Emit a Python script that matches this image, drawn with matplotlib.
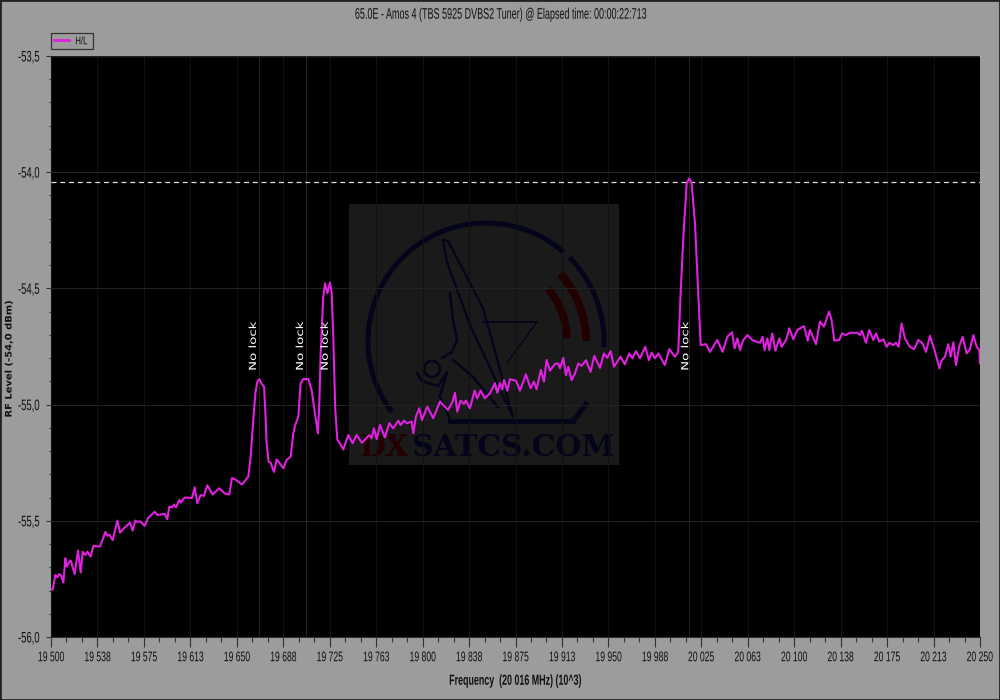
"""DVB-S2 tuner spectrum scan, 65.0E Amos 4."""

import matplotlib
matplotlib.use("Agg")
import matplotlib.patheffects as pe
import matplotlib.pyplot as plt
import numpy as np
from matplotlib.patches import Circle, Polygon, Rectangle
from matplotlib.transforms import Affine2D

freq_mhz = [
    19500.0, 19501.4, 19503.5, 19505.1, 19506.7, 19508.3, 19510.0, 19511.6, 19512.7, 19514.3,
    19515.9, 19519.1, 19521.8, 19524.0, 19525.6, 19527.7, 19529.3, 19532.0, 19534.2, 19539.6,
    19543.9, 19545.5, 19547.1, 19549.8, 19553.6, 19555.7, 19558.9, 19563.8, 19565.9, 19568.1,
    19569.7, 19571.9, 19575.6, 19578.3, 19583.7, 19585.9, 19591.7, 19593.9, 19595.5, 19597.7,
    19599.3, 19600.9, 19603.6, 19604.7, 19607.9, 19613.8, 19616.0, 19618.1, 19620.8, 19623.5,
    19626.2, 19630.5, 19635.9, 19640.7, 19643.9, 19646.1, 19649.3, 19654.2, 19659.3, 19661.2,
    19663.3, 19665.0, 19666.6, 19668.2, 19670.1, 19672.0, 19673.0, 19674.1, 19675.7, 19677.3,
    19680.0, 19682.2, 19687.6, 19690.2, 19693.5, 19695.6, 19697.2, 19699.7, 19701.5, 19703.7,
    19707.7, 19710.4, 19713.1, 19715.5, 19716.6, 19717.7, 19719.8, 19721.2, 19723.1, 19725.2,
    19726.6, 19727.9, 19729.5, 19731.2, 19733.3, 19736.0, 19740.0, 19743.5, 19746.7, 19751.0,
    19757.0, 19758.8, 19760.7, 19762.9, 19765.6, 19769.6, 19773.1, 19776.3, 19780.4, 19782.2,
    19784.9, 19787.6, 19791.1, 19792.5, 19794.6, 19797.3, 19799.5, 19803.8, 19808.6, 19814.0,
    19820.5, 19824.2, 19826.1, 19828.0, 19830.7, 19833.4, 19835.0, 19838.2, 19842.0, 19844.1,
    19846.8, 19850.3, 19854.4, 19858.4, 19860.3, 19862.4, 19864.3, 19865.7, 19868.4, 19870.5,
    19875.4, 19878.6, 19883.4, 19887.2, 19889.9, 19892.0, 19895.5, 19898.0, 19900.1, 19902.8,
    19906.8, 19909.5, 19910.9, 19913.6, 19915.7, 19917.6, 19920.3, 19923.0, 19925.7, 19928.4,
    19931.9, 19935.6, 19938.6, 19943.2, 19946.4, 19949.1, 19951.8, 19954.5, 19959.8, 19963.3,
    19966.8, 19969.5, 19972.2, 19975.5, 19979.8, 19982.7, 19984.9, 19987.6, 19990.3, 19995.6,
    19999.1, 20003.7, 20006.4, 20008.3, 20010.5, 20013.2, 20015.3, 20017.2, 20019.9, 20022.6,
    20024.5, 20028.8, 20032.0, 20037.9, 20042.2, 20046.0, 20049.8, 20051.9, 20054.1, 20056.2,
    20058.9, 20062.2, 20067.0, 20072.4, 20074.5, 20076.1, 20078.3, 20079.9, 20082.3, 20084.8,
    20088.0, 20089.9, 20093.4, 20096.1, 20099.3, 20102.5, 20107.9, 20110.9, 20112.7, 20117.6,
    20120.8, 20124.0, 20128.1, 20130.2, 20132.4, 20136.4, 20138.6, 20141.8, 20145.0, 20150.9,
    20153.1, 20154.7, 20157.9, 20160.6, 20163.9, 20166.0, 20168.7, 20171.9, 20174.6, 20176.8,
    20180.0, 20182.2, 20184.3, 20186.7, 20189.4, 20192.9, 20196.7, 20200.2, 20203.7, 20206.4,
    20209.6, 20213.7, 20217.2, 20219.0, 20221.7, 20224.4, 20226.3, 20228.5, 20230.6, 20233.3,
    20236.0, 20239.2, 20241.9, 20244.6, 20247.3, 20249.4, 20250.0,
]
level_dbm = [
    -55.795, -55.795, -55.733, -55.743, -55.729, -55.737, -55.766, -55.661, -55.697, -55.680,
    -55.671, -55.729, -55.628, -55.723, -55.633, -55.647, -55.633, -55.654, -55.608, -55.611,
    -55.548, -55.565, -55.560, -55.583, -55.499, -55.551, -55.532, -55.508, -55.542, -55.499,
    -55.505, -55.502, -55.522, -55.489, -55.461, -55.475, -55.470, -55.493, -55.439, -55.442,
    -55.430, -55.442, -55.410, -55.422, -55.400, -55.402, -55.356, -55.425, -55.389, -55.393,
    -55.347, -55.387, -55.360, -55.384, -55.387, -55.316, -55.324, -55.344, -55.310, -55.224,
    -55.066, -54.952, -54.901, -54.891, -54.911, -54.923, -55.023, -55.167, -55.246, -55.250,
    -55.290, -55.236, -55.274, -55.238, -55.224, -55.124, -55.088, -55.052, -54.909, -54.890,
    -54.890, -54.937, -55.038, -55.124, -54.995, -54.780, -54.536, -54.478, -54.521, -54.475,
    -54.521, -54.708, -55.023, -55.152, -55.167, -55.193, -55.131, -55.166, -55.131, -55.164,
    -55.131, -55.145, -55.102, -55.149, -55.088, -55.141, -55.080, -55.102, -55.069, -55.088,
    -55.069, -55.080, -55.073, -55.123, -55.052, -55.016, -55.066, -55.009, -55.059, -54.987,
    -55.023, -54.987, -54.949, -55.030, -54.983, -54.997, -54.983, -55.016, -54.940, -54.973,
    -54.940, -54.973, -54.951, -54.908, -54.949, -54.908, -54.934, -54.894, -54.940, -54.891,
    -54.897, -54.940, -54.870, -54.930, -54.901, -54.934, -54.851, -54.901, -54.808, -54.854,
    -54.825, -54.823, -54.844, -54.799, -54.873, -54.837, -54.895, -54.866, -54.823, -54.833,
    -54.809, -54.859, -54.790, -54.842, -54.780, -54.799, -54.770, -54.837, -54.794, -54.827,
    -54.780, -54.801, -54.770, -54.801, -54.751, -54.809, -54.776, -54.801, -54.780, -54.830,
    -54.761, -54.794, -54.773, -54.522, -54.278, -54.048, -54.027, -54.048, -54.220, -54.522,
    -54.744, -54.740, -54.773, -54.722, -54.773, -54.708, -54.689, -54.758, -54.715, -54.765,
    -54.722, -54.701, -54.725, -54.734, -54.708, -54.765, -54.715, -54.765, -54.694, -54.768,
    -54.715, -54.751, -54.722, -54.672, -54.719, -54.679, -54.662, -54.725, -54.679, -54.740,
    -54.643, -54.665, -54.600, -54.636, -54.725, -54.722, -54.694, -54.701, -54.691, -54.691,
    -54.701, -54.682, -54.734, -54.679, -54.722, -54.694, -54.729, -54.719, -54.751, -54.734,
    -54.744, -54.734, -54.751, -54.651, -54.715, -54.748, -54.762, -54.722, -54.737, -54.773,
    -54.704, -54.773, -54.844, -54.811, -54.794, -54.740, -54.794, -54.732, -54.830, -54.748,
    -54.708, -54.780, -54.762, -54.701, -54.751, -54.765, -54.823,
]

x_tick_labels = [
    "19 500", "19 538", "19 575", "19 613", "19 650", "19 688", "19 725", "19 763", "19 800", "19 838", "19 875",
    "19 913", "19 950", "19 988", "20 025", "20 063", "20 100", "20 138", "20 175", "20 213", "20 250",
]
y_ticks = [-56.0, -55.5, -55.0, -54.5, -54.0, -53.5]
y_tick_labels = ["-56,0", "-55,5", "-55,0", "-54,5", "-54,0", "-53,5"]
carrier_freqs = [19667.9, 19705.8, 19725.2, 20015.0]
no_lock_freqs = [19663.0, 19701.0, 19721.0, 20012.0]
no_lock_level = -54.748
peak_level = -54.042

BG = "#9c9c9c"
NAVY = "#04041a"
WINE = "#220000"


class Stretch(pe.AbstractPathEffect):
    # the original uses a condensed UI font, no such family here
    def __init__(self, fx):
        super().__init__()
        self.fx = fx

    def draw_path(self, renderer, gc, tpath, affine, rgbFace=None):
        box = tpath.get_extents()
        cx = (box.x0 + box.x1) / 2
        squeeze = Affine2D().translate(-cx, 0).scale(self.fx, 1).translate(cx, 0)
        renderer.draw_path(gc, tpath, squeeze + affine, rgbFace)


plt.rcParams["font.family"] = ["Liberation Sans", "DejaVu Sans"]

fig = plt.figure(figsize=(10, 7), dpi=100, facecolor=BG)
ax = fig.add_axes([0.051, 0.09, 0.929, 0.83], facecolor="black")
ax.set_xlim(19500, 20250)
ax.set_ylim(-56.0, -53.5)

# frame of the window
fig.patches.append(Rectangle((0, 0), 1, 1, transform=fig.transFigure, fill=False, ec="#222222", lw=2))

# grid and ticks
ax.set_xticks(np.arange(19500, 20250.1, 37.5))
ax.set_xticklabels(x_tick_labels)
ax.set_xticks(np.arange(19500, 20250.1, 12.5), minor=True)
ax.set_yticks(y_ticks)
ax.set_yticklabels(y_tick_labels)
ax.set_yticks(np.arange(-56.0, -53.49, 0.1), minor=True)
ax.tick_params(axis="x", which="major", length=7, width=0.8, color="#333333", labelsize=10, labelcolor="#111111", pad=2.5)
ax.tick_params(axis="x", which="minor", length=3.6, width=0.8, color="#333333")
ax.tick_params(axis="y", which="major", length=3.6, width=0.8, color="#333333", labelsize=11, labelcolor="#111111", pad=0)
ax.tick_params(axis="y", which="minor", length=1.5, width=0.8, color="#333333")
for lab in ax.get_xticklabels():
    lab.set_path_effects([Stretch(0.62)])
for lab in ax.get_yticklabels():
    lab.set_path_effects([Stretch(0.62)])
ax.grid(True, axis="y", which="major", color="#222222", lw=0.8, zorder=2)
ax.grid(True, axis="x", which="major", color="#111111", lw=0.8, zorder=2)
ax.set_axisbelow(False)
for s in ("left", "bottom"):
    ax.spines[s].set_color("#333333")
ax.spines["top"].set_color("#d0d0d0")
ax.spines["right"].set_visible(False)

# watermark, placed in image pixels
px = Affine2D().scale(1 / 1000, -1 / 700).translate(0, 1) + fig.transFigure
ax.add_patch(Rectangle((349, 204), 270, 261, transform=px, fc="#1a1a1a", ec="none", zorder=1))


def wm_arc(r, a0, a1, color, lw):
    t = np.radians(np.linspace(a0, a1, 80))
    ax.plot(486 + r * np.cos(t), 341 - r * np.sin(t), color=color, lw=lw, transform=px,
            solid_capstyle="butt", zorder=1.5)


def wm_line(xs, ys, lw=1.4):
    ax.plot(xs, ys, color=NAVY, lw=lw, transform=px, zorder=1.5)


wm_arc(118, 49, 217, NAVY, 3.6)
wm_arc(118, -3, 45, NAVY, 3.6)
wm_arc(118, -42.7, -31, NAVY, 3.6)
wm_line([573, 450], [421, 421], 3.4)
wm_arc(100, 0, 42, WINE, 5.6)
wm_arc(81, 2, 40, WINE, 5.6)
ax.add_patch(Polygon([(443, 240), (448, 241), (483, 308), (513, 417), (470, 325), (447, 262)],
                     transform=px, fc="#1a1a1a", ec=NAVY, lw=1.6, zorder=1.5))
ax.add_patch(Circle((432, 369), 8, transform=px, fc="none", ec=NAVY, lw=1.8, zorder=1.5))
wm_line([450, 453, 457, 452, 442], [293, 320, 340, 352, 358], 1.8)
wm_line([453, 473, 498], [360, 377, 407], 1.8)
wm_line([483, 537], [322, 322], 1.2)
wm_line([537, 507], [322, 363], 1.0)
wm_line([417, 422, 438, 447, 440, 450], [373, 381, 386, 372, 396, 420], 1.8)
ax.text(360, 456, "DX", transform=px, family="DejaVu Serif", weight="bold", fontsize=21.5,
        color=WINE, ha="left", va="baseline", zorder=1.6)
ax.text(614, 456, "SATCS.COM", transform=px, family="DejaVu Serif", weight="bold", fontsize=21.5,
        color=NAVY, ha="right", va="baseline", zorder=1.6)

# carrier markers and peak level
for f in carrier_freqs:
    ax.axvline(f, color="#351a1a", lw=0.8, zorder=2.5)
ax.axhline(peak_level, color="#dcdcdc", lw=0.9, ls=(0, (4, 3)), zorder=3)

# trace
ax.plot(freq_mhz, level_dbm, color="#e021e0", lw=1.5, label="H/L", zorder=4, solid_joinstyle="round")

for f in no_lock_freqs:
    ax.text(f, no_lock_level, "No lock", rotation=90, ha="center", va="center", color="white",
            family="DejaVu Sans", fontsize=7, zorder=5, path_effects=[Stretch(1.37)])

# labels
fig.text(0.5, 0.979, "65.0E - Amos 4 (TBS 5925 DVBS2 Tuner) @ Elapsed time: 00:00:22:713",
         ha="center", va="center", fontsize=11, color="#111111", path_effects=[Stretch(0.59)])
fig.text(0.516, 0.0275, "Frequency  (20 016 MHz) (10^3)", ha="center", va="center",
         fontsize=10.5, weight="bold", color="#111111", path_effects=[Stretch(0.61)])
fig.text(0.009, 0.487, "RF Level (-54,0 dBm)", rotation=90, ha="center", va="center",
         family="DejaVu Sans", fontsize=6.5, weight="bold", color="#111111", path_effects=[Stretch(1.1)])

leg = ax.legend(loc="lower left", bbox_to_anchor=(0, 1.012), borderaxespad=0, fancybox=False,
                facecolor=BG, edgecolor="#333333", framealpha=1, fontsize=8,
                handlelength=1.4, handletextpad=0.3, borderpad=0.25)
leg.get_frame().set_linewidth(0.9)
leg.get_lines()[0].set_linewidth(2)
leg.get_texts()[0].set_color("#111111")
leg.get_texts()[0].set_path_effects([Stretch(0.7)])

fig.savefig("out.png", dpi=100, facecolor=BG)
